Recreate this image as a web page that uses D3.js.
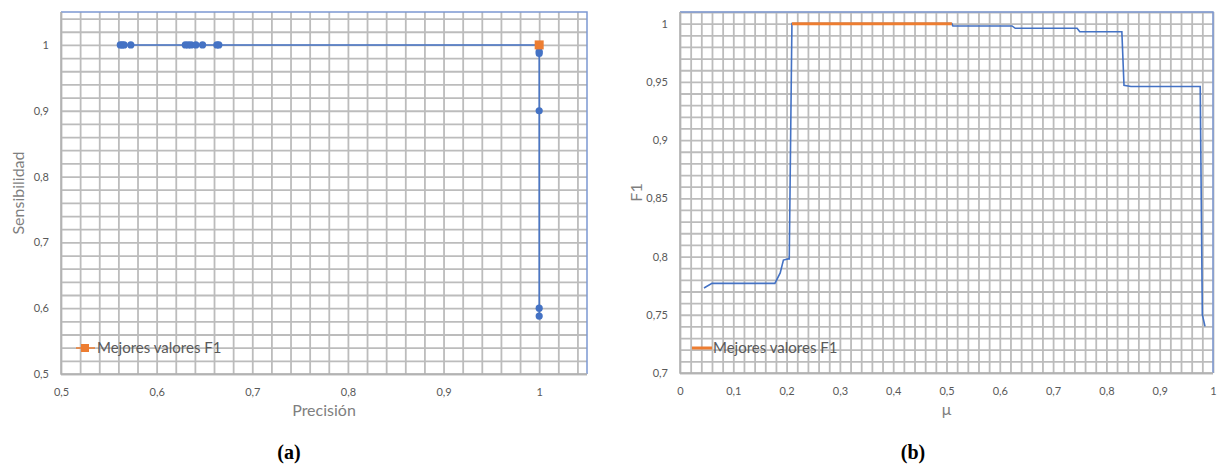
<!DOCTYPE html>
<html>
<head>
<meta charset="utf-8">
<script src="https://cdn.jsdelivr.net/npm/d3@7"></script>
<style>
  body { margin: 0; background: #fff; }
  text { font-family: Lato, "Open Sans", sans-serif; }
</style>
</head>
<body>
<div id="plot"></div>
<script>
// (a) Precision / recall points
const precision = [0.562, 0.564, 0.566, 0.573, 0.630, 0.633, 0.636, 0.641, 0.648, 0.663, 0.665, 1, 1, 1, 1, 1, 1]
const recall    = [1, 1, 1, 1, 1, 1, 1, 1, 1, 1, 1, 1, 0.99, 0.987, 0.9, 0.6, 0.588]
const bestPrecision = [1]
const bestRecall    = [1]

// (b) F1 against mu
const mu = [0.045, 0.06, 0.178, 0.188, 0.194, 0.203, 0.205, 0.21, 0.51, 0.512, 0.623, 0.629, 0.745, 0.75, 0.829, 0.833, 0.846, 0.976, 0.98, 0.985]
const f1 = [0.773, 0.777, 0.777, 0.786, 0.797, 0.798, 0.798, 1, 1, 0.998, 0.998, 0.996, 0.996, 0.993, 0.993, 0.947, 0.946, 0.946, 0.75, 0.74]
const bestMu = [0.21, 0.51]
const bestF1 = [1, 1]

const ticksAx = [0.5, 0.6, 0.7, 0.8, 0.9, 1]
const ticksAy = [0.5, 0.6, 0.7, 0.8, 0.9, 1]
const ticksBx = [0, 0.1, 0.2, 0.3, 0.4, 0.5, 0.6, 0.7, 0.8, 0.9, 1]
const ticksBy = [0.7, 0.75, 0.8, 0.85, 0.9, 0.95, 1]

const legendLabel = "Mejores valores F1"

const blue = "#4472c4", orange = "#ed7d31"
const fmt = d => String(+d.toFixed(2)).replace(".", ",")

const svg = d3.select("#plot").append("svg")
  .attr("width", 1217).attr("height", 468)

function range(a, b, step) {
  // tick positions for minor gridlines
  let out = []
  for (let i = 0; a + i * step <= b + 1e-9; i++) out.push(+(a + i * step).toFixed(4))
  return out
}

function panel(x, y, xt, yt, minorX, minorY, xTitle, yTitle, titleOff, caption) {
  const [x0, x1] = x.range(), [y0, y1] = y.range()
  const g = svg.append("g")

  // gridlines
  g.append("g").attr("transform", `translate(0,${y0})`)
    .call(d3.axisBottom(x).tickValues(minorX).tickSize(-(y0 - y1)).tickFormat(""))
    .call(a => a.select(".domain").remove())
    .selectAll("line").attr("stroke", "#bcbcbc").attr("stroke-width", 1.8)
  g.append("g").attr("transform", `translate(${x0},0)`)
    .call(d3.axisLeft(y).tickValues(minorY).tickSize(-(x1 - x0)).tickFormat(""))
    .call(a => a.select(".domain").remove())
    .selectAll("line").attr("stroke", "#bcbcbc").attr("stroke-width", 1.8)

  // border top/right in blue, axes grey
  g.append("path").attr("d", `M${x0},${y1}H${x1}V${y0}`)
    .attr("fill", "none").attr("stroke", "#7c98d2").attr("stroke-width", 1.5)
  g.append("path").attr("d", `M${x0},${y1}V${y0}H${x1}`)
    .attr("fill", "none").attr("stroke", "#b0b0b0").attr("stroke-width", 1.5)

  // tick labels
  const xa = g.append("g").attr("transform", `translate(0,${y0})`)
    .call(d3.axisBottom(x).tickValues(xt).tickSize(0).tickPadding(14).tickFormat(fmt))
  const ya = g.append("g").attr("transform", `translate(${x0},0)`)
    .call(d3.axisLeft(y).tickValues(yt).tickSize(0).tickPadding(12).tickFormat(fmt))
  ;[xa, ya].forEach(a => {
    a.select(".domain").remove()
    a.selectAll("text").attr("fill", "#595959").style("font-size", "11px")
      .style("font-family", "Lato, sans-serif")
  })

  g.append("text").attr("x", (x0 + x1) / 2).attr("y", y0 + 42)
    .attr("text-anchor", "middle").attr("fill", "#7f7f7f").style("font-size", "16px").text(xTitle)
  g.append("text").attr("transform", `translate(${x0 - titleOff},${(y0 + y1) / 2}) rotate(-90)`)
    .attr("text-anchor", "middle").attr("fill", "#7f7f7f").style("font-size", "16px").text(yTitle)

  svg.append("text").attr("x", caption.x).attr("y", 459).attr("text-anchor", "middle")
    .style("font-family", "'Liberation Serif', serif").style("font-weight", "bold")
    .style("font-size", "20px").attr("fill", "#000").text(caption.t)
  return g
}

// ---- chart (a)
const xA = d3.scaleLinear().domain([0.5, 1.05]).range([61, 587])
const yA = d3.scaleLinear().domain([0.5, 1.05]).range([374, 12])
const gA = panel(xA, yA, ticksAx, ticksAy, range(0.5, 1.05, 0.02), range(0.5, 1.05, 0.02),
  "Precisión", "Sensibilidad", 37, { x: 289, t: "(a)" })

const ptsA = precision.map((p, i) => [p, recall[i]])
gA.append("path").datum(ptsA)
  .attr("d", d3.line().x(d => xA(d[0])).y(d => yA(d[1])))
  .attr("fill", "none").attr("stroke", blue).attr("stroke-width", 1.5)
gA.selectAll("circle.pt").data(ptsA).enter().append("circle")
  .attr("cx", d => xA(d[0])).attr("cy", d => yA(d[1])).attr("r", 3.6).attr("fill", blue)
gA.selectAll("rect.best").data(bestPrecision).enter().append("rect")
  .attr("x", (d, i) => xA(d) - 4.5).attr("y", (d, i) => yA(bestRecall[i]) - 4.5)
  .attr("width", 9).attr("height", 9).attr("fill", orange)

// legend (a)
gA.append("line").attr("x1", 76).attr("x2", 95).attr("y1", 348).attr("y2", 348)
  .attr("stroke", orange).attr("stroke-width", 1.5)
gA.append("rect").attr("x", 81).attr("y", 344).attr("width", 8).attr("height", 8).attr("fill", orange)
gA.append("text").attr("x", 97).attr("y", 353).attr("fill", "#595959")
  .style("font-size", "15px").text(legendLabel)

// ---- chart (b)
const xB = d3.scaleLinear().domain([0, 1]).range([680, 1213])
const yB = d3.scaleLinear().domain([0.7, 1.01]).range([373, 12])
const gB = panel(xB, yB, ticksBx, ticksBy, range(0, 1, 0.02), range(0.7, 1.01, 0.01),
  "μ", "F1", 38, { x: 913, t: "(b)" })

gB.append("path").datum(mu.map((m, i) => [m, f1[i]]))
  .attr("d", d3.line().x(d => xB(d[0])).y(d => yB(d[1])))
  .attr("fill", "none").attr("stroke", blue).attr("stroke-width", 1.6)
gB.append("path").datum(bestMu.map((m, i) => [m, bestF1[i]]))
  .attr("d", d3.line().x(d => xB(d[0])).y(d => yB(d[1])))
  .attr("fill", "none").attr("stroke", orange).attr("stroke-width", 3)

// legend (b)
gB.append("line").attr("x1", 692).attr("x2", 712).attr("y1", 348).attr("y2", 348)
  .attr("stroke", orange).attr("stroke-width", 3)
gB.append("text").attr("x", 713).attr("y", 353).attr("fill", "#595959")
  .style("font-size", "15px").text(legendLabel)
</script>
</body>
</html>
